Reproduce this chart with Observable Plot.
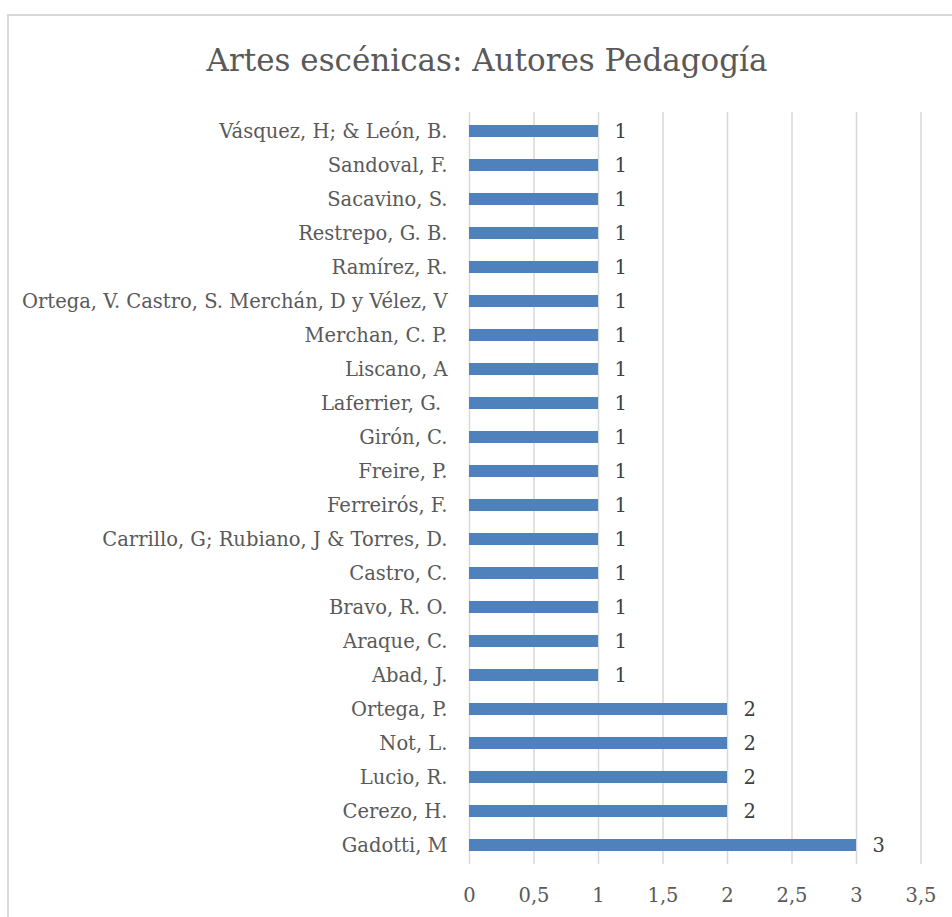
<!DOCTYPE html>
<html>
<head>
<meta charset="utf-8">
<script src="https://cdn.jsdelivr.net/npm/d3@7"></script>
<script src="https://cdn.jsdelivr.net/npm/@observablehq/plot@0.6"></script>
<style>
  html, body { margin: 0; padding: 0; background: #fff; }
  body { position: relative; width: 952px; height: 917px; overflow: hidden; font-family: "DejaVu Serif", serif; }
  #frame { position: absolute; left: 7px; top: 14px; width: 980px; height: 960px; border: 2px solid #d9d9d9; box-sizing: border-box; }
  #title { position: absolute; left: 8px; width: 958px; top: 38px; text-align: center; font-size: 31px; color: #595959; font-family: "DejaVu Serif", serif; line-height: 44px; white-space: nowrap; }
  #chart { position: absolute; left: 0; top: 90px; }
</style>
</head>
<body>
<div id="frame"></div>
<div id="title">Artes escénicas: Autores Pedagogía</div>
<div id="chart"></div>
<script>
const authors = [
  "Vásquez, H; & León, B.",
  "Sandoval, F.",
  "Sacavino, S.",
  "Restrepo, G. B.",
  "Ramírez, R.",
  "Ortega, V. Castro, S. Merchán, D y Vélez, V",
  "Merchan, C. P.",
  "Liscano, A",
  "Laferrier, G. ",
  "Girón, C.",
  "Freire, P.",
  "Ferreirós, F.",
  "Carrillo, G; Rubiano, J & Torres, D.",
  "Castro, C.",
  "Bravo, R. O.",
  "Araque, C.",
  "Abad, J.",
  "Ortega, P.",
  "Not, L.",
  "Lucio, R.",
  "Cerezo, H.",
  "Gadotti, M"
];
const counts = [1,1,1,1,1,1,1,1,1,1,1,1,1,1,1,1,1,2,2,2,2,3];
const xTicks = [0, 0.5, 1, 1.5, 2, 2.5, 3, 3.5];

const data = authors.map((a, i) => ({author: a, value: counts[i]}));
const fmt = d => String(d).replace(".", ",");

const chart = Plot.plot({
  width: 952,
  height: 827,
  marginTop: 22,
  marginBottom: 53,
  marginLeft: 469,
  marginRight: 31.5,
  style: {fontFamily: "'DejaVu Serif', serif", fontSize: "19.5px", color: "#595959", background: "transparent"},
  x: {domain: [0, 3.5], ticks: xTicks, tickFormat: fmt, label: null, tickSize: 0, tickPadding: 24},
  y: {domain: authors, paddingInner: 0.657, paddingOuter: 0.3285, label: null, tickSize: 0, tickPadding: 22},
  marks: [
    Plot.gridX(xTicks, {stroke: "#d9d9d9", strokeOpacity: 1, strokeWidth: 1.5}),
    Plot.barX(data, {x: "value", y: "author", fill: "#4f81bd"}),
    Plot.text(data, {x: "value", y: "author", text: d => fmt(d.value), textAnchor: "start", dx: 16, fill: "#404040", fontSize: 19.5}),
    Plot.axisX({ticks: xTicks, tickFormat: fmt, tickSize: 0, tickPadding: 24, fontSize: 19.5, fill: "#595959", label: null}),
    Plot.axisY({tickSize: 0, tickPadding: 22, fontSize: 19.5, fill: "#595959", label: null})
  ]
});
document.getElementById("chart").appendChild(chart);
</script>
</body>
</html>
